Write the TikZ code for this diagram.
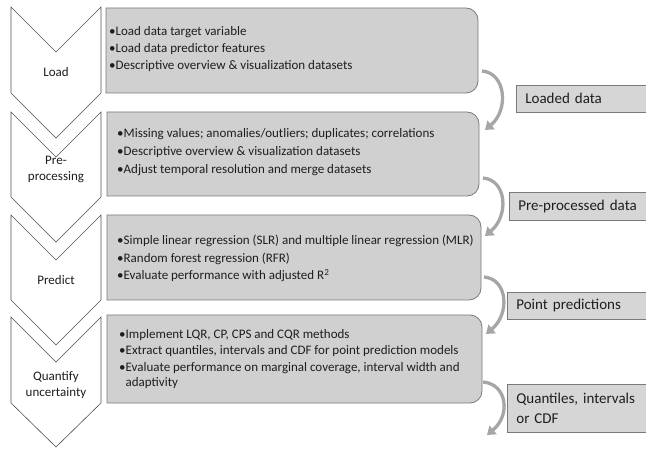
\documentclass[tikz,border=0pt]{standalone}
\usepackage{fontspec}
\setmainfont{Carlito}
\usetikzlibrary{arrows.meta,calc}
\definecolor{boxfill}{HTML}{D0D0D0}
\definecolor{boxline}{HTML}{7A7A7A}
\definecolor{lblfill}{HTML}{D6D6D6}
\definecolor{chevline}{HTML}{505050}
\definecolor{arrowgray}{HTML}{A6A6A6}
\definecolor{txt}{HTML}{1E1E1E}
\newcommand\rrbox[4]{%
  \draw[stagebox] (#1,#2) -- ({#3-12},#2)
    .. controls ({#3-5.37},#2) and (#3,{#2+5.37}) .. (#3,{#2+12})
    -- (#3,{#4-12})
    .. controls (#3,{#4-5.37}) and ({#3-5.37},#4) .. ({#3-12},#4)
    -- (#1,#4) -- cycle;}
\newcommand\chev[3]{%
  \draw[chevron] (11,#1) -- (56,{#1+45}) -- (101,#1) -- (101,#2)
    -- (56,#3) -- (11,#2) -- cycle;}
\begin{document}
\begin{tikzpicture}[x=1pt,y=-1pt,
  stagebox/.style={fill=boxfill,draw=boxline,line width=0.8pt},
  chevron/.style={fill=white,draw=chevline,line width=0.6pt},
  chevtxt/.style={font=\fontsize{13}{16}\selectfont,text=txt,align=center,inner sep=0pt},
  ln/.style={anchor=base west,inner sep=0pt,font=\fontsize{13}{16}\selectfont,text=txt},
  lbl/.style={fill=lblfill,draw=boxline,line width=0.7pt,anchor=north west,
    inner xsep=9pt,inner ysep=0pt,align=left,text=txt,
    font=\fontsize{15}{20}\selectfont},
  flow/.style={draw=arrowgray,line width=3.3pt,
    -{Triangle[length=8pt,width=11pt]}}]
\useasboundingbox (0,0) rectangle (646,449);
\clip (0,0) rectangle (646,449);
% chevrons
\chev{7}{93}{138}
\chev{112}{197}{242}
\chev{215}{300}{345}
\chev{317}{403}{447}
\node[chevtxt] (c1) at (56,72) {Load};
\node[chevtxt] (c2) at (56,169) {Pre-\\processing};
\node[chevtxt] (c3) at (56,280) {Predict};
\node[chevtxt] (c4) at (56,385) {Quantify\\uncertainty};
% stage boxes
\rrbox{106}{8}{478}{93}
\rrbox{107}{112}{479}{196}
\rrbox{107}{215}{481}{300}
\rrbox{107}{315}{482}{403}
% box texts
\node[ln] (b1a) at (109,36) {•Load data target variable};
\node[ln] (b1b) at (109,53) {•Load data predictor features};
\node[ln] (b1c) at (109,70) {•Descriptive overview \& visualization datasets};
\node[ln] (b2a) at (117,138) {•Missing values; anomalies/outliers; duplicates; correlations};
\node[ln] (b2b) at (117,156) {•Descriptive overview \& visualization datasets};
\node[ln] (b2c) at (117,174) {•Adjust temporal resolution and merge datasets};
\node[ln] (b3a) at (117,245) {•Simple linear regression (SLR) and multiple linear regression (MLR)};
\node[ln] (b3b) at (117,263) {•Random forest regression (RFR)};
\node[ln] (b3c) at (117,280) {•Evaluate performance with adjusted R\textsuperscript{2}};
\node[ln] (b4a) at (119,339) {•Implement LQR, CP, CPS and CQR methods};
\node[ln] (b4b) at (119,355) {•Extract quantiles, intervals and CDF for point prediction models};
\node[ln] (b4c) at (119,371) {•Evaluate performance on marginal coverage, interval width and};
\node[ln] (b4d) at (119,387) {\phantom{•}adaptivity};
% output labels
\node[lbl,minimum width=140pt,minimum height=27pt,text width=122pt] (l1) at (516,85) {Loaded data};
\node[lbl,minimum width=145pt,minimum height=28pt,text width=127pt] (l2) at (509,192) {Pre-processed data};
\node[lbl,minimum width=147pt,minimum height=27pt,text width=129pt] (l3) at (507,292) {Point predictions};
\node[lbl,minimum width=147pt,minimum height=48pt,text width=129pt] (l4) at (507,384) {Quantiles, intervals\\or CDF};
% curved arrows
\coordinate (a1s) at (482,71);  \coordinate (a1e) at (485,130);
\coordinate (a2s) at (483,178); \coordinate (a2e) at (485,236);
\coordinate (a3s) at (484,277); \coordinate (a3e) at (486,334);
\coordinate (a4s) at (483,382); \coordinate (a4e) at (487,435);
\foreach \a in {1,2,3,4}{
  \draw[flow] (a\a s) .. controls ($(a\a s)+(24,2)$) and ($(a\a e)+(24,-20)$) .. (a\a e);
}
\end{tikzpicture}
\end{document}
